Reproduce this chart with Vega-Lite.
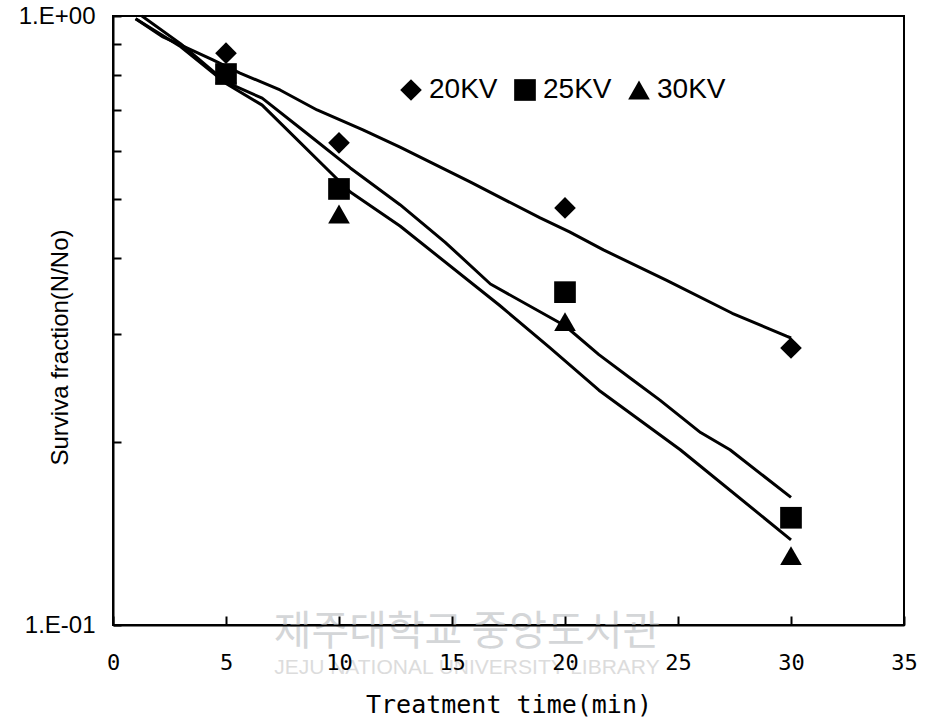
{
  "$schema": "https://vega.github.io/schema/vega-lite/v6.json",
  "width": 791,
  "height": 609,
  "autosize": "none",
  "padding": {"left": 113, "top": 16, "right": 25, "bottom": 100},
  "background": "white",
  "config": {
    "view": {"stroke": "black", "strokeWidth": 2}
  },
  "datasets": {
    "points": [
      {"series": "30KV", "t": 5, "v": 0.803},
      {"series": "30KV", "t": 10, "v": 0.473},
      {"series": "30KV", "t": 20, "v": 0.315},
      {"series": "30KV", "t": 30, "v": 0.130},
      {"series": "25KV", "t": 5, "v": 0.803},
      {"series": "25KV", "t": 10, "v": 0.520},
      {"series": "25KV", "t": 20, "v": 0.352},
      {"series": "25KV", "t": 30, "v": 0.150},
      {"series": "20KV", "t": 5, "v": 0.869},
      {"series": "20KV", "t": 10, "v": 0.619},
      {"series": "20KV", "t": 20, "v": 0.484},
      {"series": "20KV", "t": 30, "v": 0.285}
    ],
    "curves": [
      {"series": "20KV", "t": 1.0, "v": 0.99},
      {"series": "20KV", "t": 2.21, "v": 0.924},
      {"series": "20KV", "t": 4.42, "v": 0.847},
      {"series": "20KV", "t": 5.62, "v": 0.806},
      {"series": "20KV", "t": 7.39, "v": 0.756},
      {"series": "20KV", "t": 9.03, "v": 0.701},
      {"series": "20KV", "t": 11.06, "v": 0.650},
      {"series": "20KV", "t": 12.7, "v": 0.609},
      {"series": "20KV", "t": 15.8, "v": 0.534},
      {"series": "20KV", "t": 18.9, "v": 0.466},
      {"series": "20KV", "t": 20.2, "v": 0.442},
      {"series": "20KV", "t": 21.7, "v": 0.413},
      {"series": "20KV", "t": 24.5, "v": 0.368},
      {"series": "20KV", "t": 27.4, "v": 0.325},
      {"series": "20KV", "t": 29.8, "v": 0.298},
      {"series": "20KV", "t": 30.0, "v": 0.296},
      {"series": "25KV", "t": 1.28, "v": 1.0},
      {"series": "25KV", "t": 3.0, "v": 0.90},
      {"series": "25KV", "t": 5.0, "v": 0.779},
      {"series": "25KV", "t": 6.6, "v": 0.733},
      {"series": "25KV", "t": 8.5, "v": 0.645},
      {"series": "25KV", "t": 10.5, "v": 0.563},
      {"series": "25KV", "t": 12.7, "v": 0.490},
      {"series": "25KV", "t": 14.7, "v": 0.425},
      {"series": "25KV", "t": 16.7, "v": 0.363},
      {"series": "25KV", "t": 20.0, "v": 0.310},
      {"series": "25KV", "t": 21.5, "v": 0.278},
      {"series": "25KV", "t": 23.0, "v": 0.2525},
      {"series": "25KV", "t": 24.2, "v": 0.234},
      {"series": "25KV", "t": 26.0, "v": 0.207},
      {"series": "25KV", "t": 27.3, "v": 0.194},
      {"series": "25KV", "t": 30.0, "v": 0.162},
      {"series": "30KV", "t": 1.0, "v": 0.99},
      {"series": "30KV", "t": 3.0, "v": 0.89},
      {"series": "30KV", "t": 5.0, "v": 0.775},
      {"series": "30KV", "t": 6.6, "v": 0.714},
      {"series": "30KV", "t": 10.5, "v": 0.514},
      {"series": "30KV", "t": 12.7, "v": 0.452},
      {"series": "30KV", "t": 17.1, "v": 0.335},
      {"series": "30KV", "t": 19.3, "v": 0.286},
      {"series": "30KV", "t": 21.5, "v": 0.243},
      {"series": "30KV", "t": 25.1, "v": 0.194},
      {"series": "30KV", "t": 30.0, "v": 0.138}
    ],
    "watermark": [
      {"t": 15.66, "v": 0.1, "label": "제주대학교 중앙도서관", "kind": "ko"},
      {"t": 15.66, "v": 0.1, "label": "JEJU NATIONAL UNIVERSITY LIBRARY", "kind": "en"}
    ]
  },
  "encoding": {
    "x": {
      "field": "t",
      "type": "quantitative",
      "scale": {"domain": [0, 35], "nice": false, "zero": false},
      "axis": {
        "values": [0, 5, 10, 15, 20, 25, 30, 35],
        "format": "d",
        "grid": false,
        "ticks": true,
        "tickSize": -9,
        "tickColor": "black",
        "tickWidth": 2,
        "tickOpacity": 1,
        "domainColor": "black",
        "domainWidth": 2,
        "labelFont": "DejaVu Sans Mono",
        "labelFontSize": 22,
        "labelColor": "black",
        "labelPadding": 36,
        "labelFlush": false,
        "labelOverlap": false,
        "title": "Treatment time(min)",
        "titleFont": "DejaVu Sans Mono",
        "titleFontSize": 25,
        "titleFontWeight": "normal",
        "titleColor": "black",
        "titleY": 87,
        "titleBaseline": "alphabetic",
        "zindex": 1
      }
    },
    "y": {
      "field": "v",
      "type": "quantitative",
      "scale": {"type": "log", "domain": [0.1, 1], "nice": false},
      "axis": {
        "values": [0.1, 0.2, 0.3, 0.4, 0.5, 0.6, 0.7, 0.8, 0.9, 1],
        "labelExpr": "datum.value >= 0.99 ? '1.E+00' : (datum.value <= 0.101 ? '1.E-01' : '')",
        "grid": false,
        "ticks": true,
        "tickSize": -8,
        "tickColor": "black",
        "tickWidth": 2,
        "tickOpacity": 1,
        "domainColor": "black",
        "domainWidth": 2,
        "labelFont": "Liberation Sans",
        "labelFontSize": 24,
        "labelColor": "black",
        "labelPadding": 26,
        "labelBaseline": "middle",
        "labelFlush": false,
        "labelOverlap": false,
        "title": "Surviva fraction(N/No)",
        "titleFont": "Liberation Sans",
        "titleFontSize": 24,
        "titleFontWeight": "normal",
        "titleColor": "black",
        "titleX": -53,
        "titleY": 331,
        "titleAngle": -90,
        "titleAlign": "center",
        "titleBaseline": "middle",
        "zindex": 1
      }
    }
  },
  "layer": [
    {
      "data": {"name": "watermark"},
      "transform": [{"filter": "datum.kind === 'ko'"}],
      "mark": {"type": "text", "font": "Noto Sans CJK KR", "fontSize": 41, "color": "#d4d6d8", "baseline": "middle", "align": "center", "dy": 8},
      "encoding": {"text": {"field": "label"}}
    },
    {
      "data": {"name": "watermark"},
      "transform": [{"filter": "datum.kind === 'en'"}],
      "mark": {"type": "text", "font": "Liberation Sans", "fontSize": 21, "color": "#dcdcdc", "baseline": "middle", "align": "center", "dy": 43},
      "encoding": {"text": {"field": "label"}}
    },
    {
      "data": {"name": "curves"},
      "mark": {"type": "line", "color": "black", "strokeWidth": 3, "strokeJoin": "round"},
      "encoding": {
        "detail": {"field": "series"},
        "order": {"field": "t", "type": "quantitative"}
      }
    },
    {
      "data": {"name": "points"},
      "mark": {"type": "point", "filled": true, "color": "black", "opacity": 1, "size": 470, "strokeWidth": 0},
      "encoding": {
        "shape": {
          "field": "series",
          "type": "nominal",
          "scale": {"domain": ["20KV", "25KV", "30KV"], "range": ["diamond", "square", "triangle-up"]},
          "legend": {
            "orient": "none",
            "legendX": 284,
            "legendY": 60,
            "direction": "horizontal",
            "title": null,
            "padding": 0,
            "labelFont": "Liberation Sans",
            "labelFontSize": 28,
            "labelColor": "black",
            "labelOffset": 4,
            "columnPadding": 13,
            "symbolSize": 470,
            "symbolFillColor": "black",
            "symbolStrokeColor": "black",
            "symbolStrokeWidth": 0,
            "symbolOpacity": 1
          }
        }
      }
    }
  ]
}
